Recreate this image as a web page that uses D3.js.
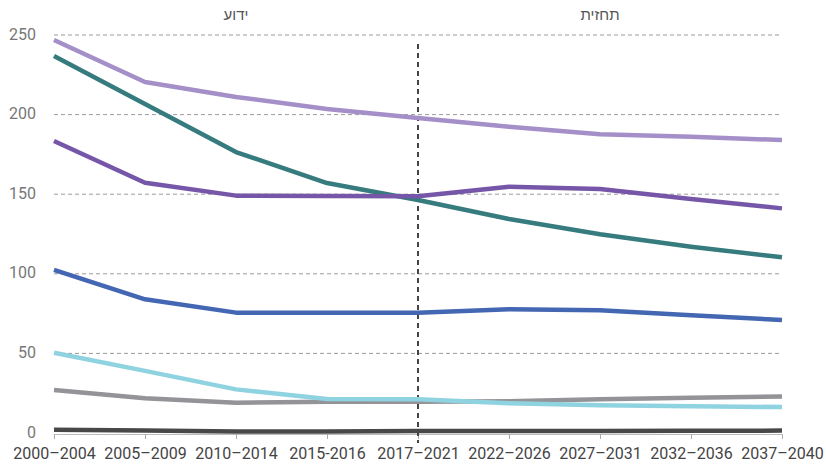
<!DOCTYPE html>
<html>
<head>
<meta charset="utf-8">
<script src="https://cdn.jsdelivr.net/npm/d3@7"></script>
<style>
  body { margin: 0; background: #fff; }
  svg { font-family: Roboto, "Noto Sans", sans-serif; }
</style>
</head>
<body>
<svg id="canvas" width="826" height="468"></svg>
<script>
var periods = ["2000–2004", "2005–2009", "2010–2014", "2015-2016", "2017–2021", "2022–2026", "2027–2031", "2032–2036", "2037–2040"];
var yTicks = [0, 50, 100, 150, 200, 250];

var lightPurple = [246.9, 220.5, 211.1, 203.5, 197.9, 192.4, 187.6, 186.1, 184.0];
var teal        = [236.8, 206.7, 176.5, 157.0, 146.4, 134.4, 124.8, 117.0, 110.4];
var darkPurple  = [183.4, 157.2, 149.1, 148.9, 148.7, 154.7, 153.3, 147.0, 141.1];
var blue        = [102.4, 84.0, 75.6, 75.6, 75.6, 77.7, 77.1, 73.9, 71.0];
var lightBlue   = [50.4, 39.0, 27.4, 21.4, 21.2, 18.7, 17.4, 16.8, 16.3];
var grey        = [27.0, 21.8, 19.0, 19.7, 19.7, 19.9, 21.2, 22.2, 23.0];
var dark        = [2.0, 1.5, 1.0, 1.0, 1.2, 1.2, 1.3, 1.4, 1.5];

var series = [
  {values: grey, color: "#939398"},
  {values: lightBlue, color: "#8fd3e1"},
  {values: dark, color: "#484848"},
  {values: blue, color: "#4467b3"},
  {values: teal, color: "#367b7e"},
  {values: darkPurple, color: "#7656a8"},
  {values: lightPurple, color: "#a58fc8"}
];

var canvas = d3.select("#canvas");

var x = d3.scalePoint()
  .domain(periods)
  .range([54, 782]);

var y = d3.scaleLinear()
  .domain([0, 250])
  .range([433, 35]);

// gridlines
canvas.append("g")
  .selectAll("line")
  .data(yTicks.filter(function(d) { return d > 0; }))
  .enter()
  .append("line")
  .attr("x1", 54)
  .attr("x2", 782)
  .attr("y1", function(d) { return y(d); })
  .attr("y2", function(d) { return y(d); })
  .attr("stroke", "#9a9a9a")
  .attr("stroke-width", 1)
  .attr("stroke-dasharray", "4,3");

// y labels
canvas.append("g")
  .selectAll("text")
  .data(yTicks)
  .enter()
  .append("text")
  .attr("x", 36)
  .attr("y", function(d) { return y(d) - 1; })
  .attr("dy", "0.35em")
  .attr("text-anchor", "end")
  .attr("fill", "#777")
  .style("font-size", "16px")
  .text(function(d) { return d; });

// x axis
var xAxis = canvas.append("g")
  .attr("transform", "translate(0,434)")
  .call(d3.axisBottom(x).tickSize(5).tickPadding(9));
xAxis.select(".domain").attr("stroke", "#bbb");
xAxis.selectAll(".tick line").attr("stroke", "#aaa");
xAxis.selectAll(".tick text")
  .attr("fill", "#444")
  .style("font-size", "16px")
  .style("font-family", "Roboto, sans-serif");

// divider between known and forecast
canvas.append("line")
  .attr("x1", x("2017–2021"))
  .attr("x2", x("2017–2021"))
  .attr("y1", 44)
  .attr("y2", 443)
  .attr("stroke", "#444")
  .attr("stroke-width", 2)
  .attr("stroke-dasharray", "5,4");

// top labels
canvas.append("text")
  .attr("x", (x(periods[0]) + x("2017–2021")) / 2)
  .attr("y", 20)
  .attr("text-anchor", "middle")
  .attr("fill", "#555")
  .style("font-size", "15px")
  .text("ידוע");
canvas.append("text")
  .attr("x", (x("2017–2021") + x(periods[8])) / 2)
  .attr("y", 20)
  .attr("text-anchor", "middle")
  .attr("fill", "#555")
  .style("font-size", "15px")
  .text("תחזית");

var line = d3.line()
  .x(function(d, i) { return x(periods[i]); })
  .y(function(d) { return y(d); });

canvas.append("g")
  .selectAll("path")
  .data(series)
  .enter()
  .append("path")
  .attr("d", function(d) { return line(d.values); })
  .attr("fill", "none")
  .attr("stroke", function(d) { return d.color; })
  .attr("stroke-width", 4.5)
  .attr("stroke-linejoin", "round");
</script>
</body>
</html>
